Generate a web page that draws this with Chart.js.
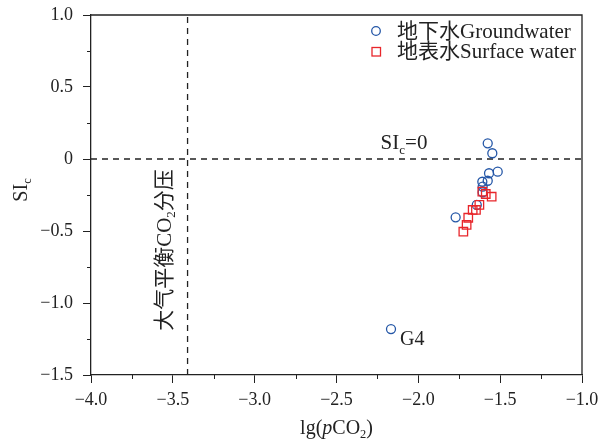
<!DOCTYPE html>
<html>
<head>
<meta charset="utf-8">
<script src="https://cdn.jsdelivr.net/npm/chart.js@4.4.1/dist/chart.umd.min.js"></script>
<style>
  html, body { margin: 0; background: #fff; }
</style>
</head>
<body>
<canvas id="scatter" width="604" height="441"></canvas>
<script>
// groundwater samples (last one is G4)
const gwX = [-1.576, -1.548, -1.515, -1.568, -1.576, -1.609, -1.607, -1.607, -1.643, -1.772, -2.167];
const gwY = [0.109, 0.040, -0.088, -0.099, -0.151, -0.158, -0.192, -0.231, -0.319, -0.405, -1.181];
// surface water samples
const swX = [-1.609, -1.588, -1.552, -1.627, -1.648, -1.668, -1.695, -1.705, -1.725];
const swY = [-0.227, -0.243, -0.262, -0.319, -0.354, -0.354, -0.408, -0.458, -0.505];
// atmospheric equilibrium lg(pCO2)
const atmX = -3.41;

const xTicks = [-4, -3.5, -3, -2.5, -2, -1.5, -1];
const xTickLabels = ["\u22124.0", "\u22123.5", "\u22123.0", "\u22122.5", "\u22122.0", "\u22121.5", "\u22121.0"];
const yTicks = [-1.5, -1, -0.5, 0, 0.5, 1];
const yTickLabels = ["\u22121.5", "\u22121.0", "\u22120.5", "0", "0.5", "1.0"];

const FONT = "'Liberation Serif', 'Noto Sans CJK SC', serif";
const INK = '#222';
const BLUE = '#2557a7';
const RED = '#e8262b';

const pts = (xs, ys) => xs.map((x, i) => ({ x: x, y: ys[i] }));

// draws mixed text: parts = [[text, style]], style '' | 'sub' | 'it'
function rich(ctx, parts, x, y, size, align) {
  const fontOf = (st) => (st === 'it' ? 'italic ' : '') + (st === 'sub' ? size * 0.62 : size) + 'px ' + FONT;
  const w = parts.map(p => { ctx.font = fontOf(p[1]); return ctx.measureText(p[0]).width; });
  const total = w.reduce((a, b) => a + b, 0);
  let cx = align === 'left' ? x : x - total / 2;
  ctx.textAlign = 'left';
  ctx.textBaseline = 'alphabetic';
  parts.forEach((p, i) => {
    ctx.font = fontOf(p[1]);
    ctx.fillText(p[0], cx, p[1] === 'sub' ? y + size * 0.22 : y);
    cx += w[i];
  });
}

const extras = {
  id: 'extras',
  afterDraw(chart) {
    const ctx = chart.ctx;
    const a = chart.chartArea;
    const xs = chart.scales.x, ys = chart.scales.y;
    ctx.save();
    ctx.strokeStyle = INK;
    ctx.fillStyle = INK;
    ctx.lineWidth = 1.3;
    // top and right frame
    ctx.beginPath();
    ctx.moveTo(a.left, a.top); ctx.lineTo(a.right, a.top); ctx.lineTo(a.right, a.bottom);
    ctx.stroke();
    // minor ticks
    ctx.lineWidth = 1;
    ctx.beginPath();
    for (let i = 0; i < xTicks.length - 1; i++) {
      const px = Math.round(xs.getPixelForValue((xTicks[i] + xTicks[i + 1]) / 2)) + 0.5;
      ctx.moveTo(px, a.bottom); ctx.lineTo(px, a.bottom + 4);
    }
    for (let i = 0; i < yTicks.length - 1; i++) {
      const py = Math.round(ys.getPixelForValue((yTicks[i] + yTicks[i + 1]) / 2)) + 0.5;
      ctx.moveTo(a.left, py); ctx.lineTo(a.left - 4, py);
    }
    ctx.stroke();

    // axis titles
    rich(ctx, [['lg(', ''], ['p', 'it'], ['CO', ''], ['2', 'sub'], [')', '']], (a.left + a.right) / 2, 434, 20);
    ctx.save();
    ctx.translate(20, 190);
    ctx.rotate(-Math.PI / 2);
    rich(ctx, [['SI', ''], ['c', 'sub']], 0, 7, 20);
    ctx.restore();

    // annotations
    rich(ctx, [['SI', ''], ['c', 'sub'], ['=0', '']], 404, 149, 21);
    const g4x = xs.getPixelForValue(gwX[gwX.length - 1]);
    const g4y = ys.getPixelForValue(gwY[gwY.length - 1]);
    rich(ctx, [['G4', '']], g4x + 9, g4y + 16, 20, 'left');
    ctx.save();
    ctx.translate(xs.getPixelForValue(atmX) - 24, 250);
    ctx.rotate(-Math.PI / 2);
    rich(ctx, [['大气平衡CO', ''], ['2', 'sub'], ['分压', '']], 0, 7, 21);
    ctx.restore();

    // legend
    ctx.lineWidth = 1.3;
    ctx.strokeStyle = BLUE;
    ctx.beginPath(); ctx.arc(376, 31, 4.3, 0, Math.PI * 2); ctx.stroke();
    ctx.strokeStyle = RED;
    ctx.strokeRect(372, 47.5, 8.5, 8.5);
    ctx.fillStyle = INK;
    rich(ctx, [['地下水Groundwater', '']], 397, 38, 21, 'left');
    rich(ctx, [['地表水Surface water', '']], 397, 58, 21, 'left');
    ctx.restore();
  }
};

Chart.defaults.font.family = FONT;
Chart.defaults.color = INK;

new Chart(document.getElementById('scatter'), {
  type: 'scatter',
  data: {
    datasets: [
      {
        label: '地表水Surface water',
        data: pts(swX, swY),
        pointStyle: 'rect',
        pointRadius: 6,
        borderColor: RED,
        borderWidth: 1.3,
        backgroundColor: 'rgba(0,0,0,0)'
      },
      {
        label: '地下水Groundwater',
        data: pts(gwX, gwY),
        pointStyle: 'circle',
        pointRadius: 4.5,
        borderColor: BLUE,
        borderWidth: 1.3,
        backgroundColor: 'rgba(0,0,0,0)'
      },
      {
        label: 'SIc=0',
        data: [{ x: -4, y: 0 }, { x: -1, y: 0 }],
        showLine: true,
        pointRadius: 0,
        borderColor: INK,
        borderWidth: 1.3,
        borderDash: [6, 5]
      },
      {
        label: 'atm',
        data: [{ x: atmX, y: -1.5 }, { x: atmX, y: 1 }],
        showLine: true,
        pointRadius: 0,
        borderColor: INK,
        borderWidth: 1.3,
        borderDash: [6, 5]
      }
    ]
  },
  options: {
    responsive: false,
    animation: false,
    layout: { padding: { top: 15, right: 22, left: 0, bottom: 0 } },
    plugins: { legend: { display: false }, tooltip: { enabled: false } },
    scales: {
      x: {
        type: 'linear',
        min: -4,
        max: -1,
        afterFit(s) { s.height = 66; s.paddingLeft = 0; s.paddingRight = 0; },
        afterBuildTicks(s) { s.ticks = xTicks.map(v => ({ value: v })); },
        ticks: {
          callback: (v) => xTickLabels[xTicks.indexOf(v)],
          font: { size: 18 },
          color: INK,
          padding: 6,
          maxRotation: 0
        },
        grid: { drawOnChartArea: false, tickLength: 8, tickColor: INK, color: INK },
        border: { color: INK, width: 1.3 }
      },
      y: {
        type: 'linear',
        min: -1.5,
        max: 1,
        afterFit(s) { s.width = 91; s.paddingTop = 0; s.paddingBottom = 0; },
        afterBuildTicks(s) { s.ticks = yTicks.map(v => ({ value: v })); },
        ticks: {
          callback: (v) => yTickLabels[yTicks.indexOf(v)],
          font: { size: 18 },
          color: INK,
          padding: 10
        },
        grid: { drawOnChartArea: false, tickLength: 8, tickColor: INK, color: INK },
        border: { color: INK, width: 1.3 }
      }
    }
  },
  plugins: [extras]
});
</script>
</body>
</html>
